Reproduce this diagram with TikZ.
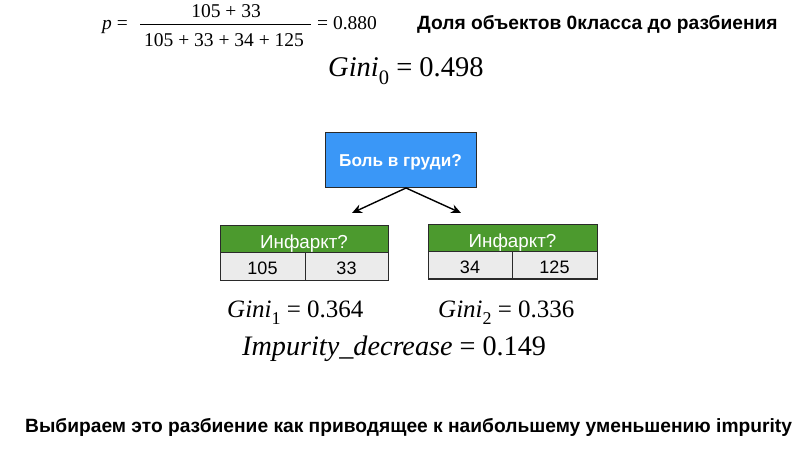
\documentclass[tikz,border=0pt]{standalone}
\usepackage{fontspec}
\setmainfont{Liberation Serif}
\newfontfamily\hsans{Liberation Sans}
\usetikzlibrary{arrows.meta}
\definecolor{boxblue}{HTML}{3A97F7}
\definecolor{hdrgreen}{HTML}{4C9A2E}
\definecolor{rowgray}{HTML}{EBEBEB}
\definecolor{edge}{HTML}{2A2A2A}
\newcommand{\sub}[1]{\raisebox{-0.28em}{\scalebox{0.72}{#1}}}
\tikzset{
  sanslabel/.style={font=\hsans\bfseries\fontsize{19.2}{22}\selectfont, inner sep=0pt},
  mathtxt/.style={inner sep=0pt},
  rootbox/.style={draw=edge, line width=1pt, fill=boxblue, minimum width=151pt, minimum height=55pt, inner sep=0pt,
    text=white, text height=13pt, text depth=0pt, font=\hsans\bfseries\fontsize{17.2}{19}\selectfont},
  hdr/.style={draw=edge, line width=1pt, fill=hdrgreen, minimum width=168pt, minimum height=27pt, inner sep=0pt,
    text=white, text height=17.5pt, text depth=0pt, font=\hsans\fontsize{18.8}{20}\selectfont},
  cell/.style={draw=edge, line width=1pt, fill=rowgray, minimum height=27pt, inner sep=0pt,
    text height=15.5pt, text depth=0pt, font=\hsans\fontsize{18}{20}\selectfont},
  link/.style={-{Stealth[length=10pt,width=9pt]}, line width=1.4pt, black}
}
\begin{document}
\begin{tikzpicture}[x=1pt,y=-1pt]
\useasboundingbox (0,0) rectangle (800,462);
% formula for p
\node[mathtxt, anchor=base west, font=\fontsize{19.5}{22}\selectfont] (peq) at (102,30) {\textit{p} =};
\node[mathtxt, anchor=base, font=\fontsize{19.5}{22}\selectfont] (num) at (226,18) {105 + 33};
\node[mathtxt, anchor=base, font=\fontsize{19.5}{22}\selectfont] (den) at (224,47) {105 + 33 + 34 + 125};
\coordinate (barL) at (140,24.5);
\coordinate (barR) at (311,24.5);
\draw[line width=0.9pt] (barL) -- (barR);
\node[mathtxt, anchor=base west, font=\fontsize{19.5}{22}\selectfont] (pval) at (317,30) {= 0.880};
\node[sanslabel, anchor=base west] (title) at (417,30) {Доля объектов 0класса до разбиения};
% Gini 0
\node[mathtxt, anchor=base west, font=\fontsize{28.5}{32}\selectfont] (g0) at (328,77) {\textit{Gini}\sub{0} = 0.498};
% root
\node[rootbox] (root) at (400.5,160.5) {Боль в груди?};
% left table
\node[hdr] (lh) at (304,239.5) {Инфаркт?};
\node[cell, minimum width=85pt] (l1) at (262.5,266.5) {105};
\node[cell, minimum width=83pt] (l2) at (346.5,266.5) {33};
% right table
\node[hdr, minimum width=169pt] (rh) at (512.5,238.5) {Инфаркт?};
\node[cell, minimum width=84pt] (r1) at (470,265.5) {34};
\node[cell, minimum width=85pt] (r2) at (554.5,265.5) {125};
% arrows
\coordinate (apex) at (406,188);
\coordinate (lt) at (352,213);
\coordinate (rt) at (461,213);
\draw[link] (apex) -- (lt);
\draw[link] (apex) -- (rt);
% gini values
\node[mathtxt, anchor=base west, font=\fontsize{25}{29}\selectfont] (g1) at (227,317) {\textit{Gini}\sub{1} = 0.364};
\node[mathtxt, anchor=base west, font=\fontsize{25}{29}\selectfont] (g2) at (438,317) {\textit{Gini}\sub{2} = 0.336};
\node[mathtxt, anchor=base west, font=\fontsize{28.2}{32}\selectfont] (imp) at (242,355) {\textit{Impurity\_decrease} = 0.149};
% conclusion
\node[sanslabel, anchor=base west] (concl) at (25,432) {Выбираем это разбиение как приводящее к наибольшему уменьшению impurity};
\end{tikzpicture}
\end{document}
